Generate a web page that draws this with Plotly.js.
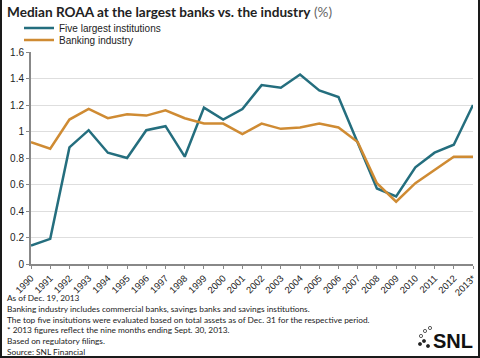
<!DOCTYPE html>
<html><head><meta charset="utf-8">
<script src="https://cdn.plot.ly/plotly-3.0.1.min.js"></script>
<style>
html,body{margin:0;padding:0;background:#fff;}
#wrap{position:relative;width:480px;height:358px;}
#chart{width:480px;height:358px;}
#frame{position:absolute;left:0;top:0;width:480px;height:358px;box-sizing:border-box;border-left:2px solid #1a1a1a;border-right:2px solid #1a1a1a;border-bottom:2px solid #1a1a1a;pointer-events:none;}
</style></head>
<body><div id="wrap"><div id="chart"></div><div id="frame"></div></div>
<script>
const years = ["1990","1991","1992","1993","1994","1995","1996","1997","1998","1999","2000","2001","2002","2003","2004","2005","2006","2007","2008","2009","2010","2011","2012","2013*"];
const fiveLargest = [0.14,0.19,0.88,1.01,0.84,0.80,1.01,1.04,0.81,1.18,1.09,1.17,1.35,1.33,1.43,1.31,1.26,0.92,0.57,0.51,0.73,0.84,0.90,1.20];
const bankingIndustry = [0.92,0.87,1.09,1.17,1.10,1.13,1.12,1.16,1.10,1.06,1.06,0.98,1.06,1.02,1.03,1.06,1.03,0.92,0.61,0.47,0.61,0.71,0.81,0.81];
const seriesNames = ["Five largest institutions","Banking industry"];
const notes = ["As of Dec. 19, 2013",
"Banking industry includes commercial banks, savings banks and savings institutions.",
"The top five insitutions were evaluated based on total assets as of Dec. 31 for the respective period.",
"* 2013 figures reflect the nine months ending Sept. 30, 2013.",
"Based on regulatory filings.",
"Source: SNL Financial"];

// plot area in pixels: x 31..473, y 52..264
const PL=31, PW=442, PT=52, PH=212;
const px = v => (v-PL)/PW;
const py = v => 1-(v-PT)/PH;

const traces = [
  {x: years, y: fiveLargest, name: seriesNames[0], type:'scatter', mode:'lines', line:{color:'#246e7e', width:2.5}, legend:'legend'},
  {x: years, y: bankingIndustry, name: seriesNames[1], type:'scatter', mode:'lines', line:{color:'#cf8b33', width:2.5}, legend:'legend2'}
];

const legendBase = {xanchor:'left', yanchor:'middle', font:{size:10, color:'#222'}, itemwidth:30,
  bgcolor:'rgba(0,0,0,0)', borderwidth:0};

// logo dots
const dots = [[421,336,false],[425,331,false],[430,328,false],[424,341,true],[420,344,true],[428,346,true]];
const shapes = dots.map(d => ({type:'circle', xref:'paper', yref:'paper',
  x0:px(d[0]-1.6), x1:px(d[0]+1.6), y0:py(d[1]+1.6), y1:py(d[1]-1.6),
  line:{color:'#333', width:0.8}, fillcolor: d[2] ? '#222' : '#fff'}));

const layout = {
  width:480, height:358,
  margin:{l:PL, r:480-PL-PW, t:PT, b:358-PT-PH, autoexpand:false},
  paper_bgcolor:'#fff', plot_bgcolor:'#fff',
  font:{family:'"Liberation Sans", Arial, sans-serif', size:10, color:'#222'},
  title:{text:'<b>Median ROAA at the largest banks vs. the industry</b> <span style="color:#666">(%)</span>',
    xref:'container', yref:'container', x:7/480, xanchor:'left', y:1-12/358, yanchor:'middle',
    font:{family:'Lato, sans-serif', size:13.6, color:'#222'}},
  showlegend:true,
  legend: Object.assign({}, legendBase, {x:px(19), y:py(28)}),
  legend2: Object.assign({}, legendBase, {x:px(19), y:py(40)}),
  xaxis:{type:'category', range:[0,23], showgrid:false, showline:true, linecolor:'#888', linewidth:2,
    ticks:'outside', ticklen:3, tickcolor:'#888', tickangle:-45, tickfont:{size:9.5, color:'#222'}, fixedrange:true},
  yaxis:{range:[0,1.6], dtick:0.2, showgrid:true, gridcolor:'#dedede', gridwidth:1, zeroline:false,
    showline:true, linecolor:'#888', linewidth:2, ticks:'outside', ticklen:3, tickcolor:'#888',
    tickfont:{size:10, color:'#222'}},
  shapes: shapes,
  annotations:[
    {xref:'paper', yref:'paper', x:px(5), y:py(359), xanchor:'left', yanchor:'bottom', align:'left',
     showarrow:false, text: notes.join('<br>'), font:{family:'Lato, sans-serif', size:8.3, color:'#222'}},
    {xref:'paper', yref:'paper', x:px(475), y:py(354), xanchor:'right', yanchor:'bottom', showarrow:false,
     text:'<b>SNL</b>', font:{family:'"Liberation Sans", Arial, sans-serif', size:20, color:'#111'}}
  ]
};
Plotly.newPlot('chart', traces, layout, {displayModeBar:false, staticPlot:true});
</script></body></html>
